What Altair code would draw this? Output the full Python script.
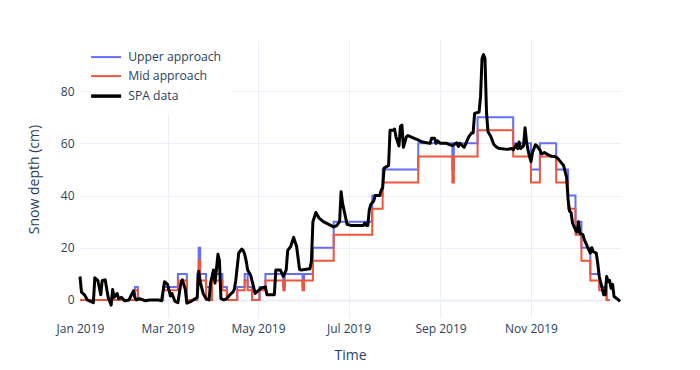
import altair as alt
import pandas as pd

# ---------------- data ----------------
series_names = ["Upper approach", "Mid approach", "SPA data"]
series_colors = ["#636efa", "#EF553B", "#000000"]

step_dates = [
    "2019-01-01", "2019-02-07", "2019-02-09", "2019-02-26", "2019-03-08", "2019-03-14",
    "2019-03-21", "2019-03-22", "2019-03-23", "2019-03-27", "2019-03-31", "2019-04-07",
    "2019-04-10", "2019-04-17", "2019-04-22", "2019-04-24", "2019-04-27", "2019-05-02",
    "2019-05-06", "2019-05-18", "2019-05-19", "2019-05-31", "2019-06-01", "2019-06-07",
    "2019-06-21", "2019-07-17", "2019-07-24", "2019-08-17", "2019-09-09", "2019-09-10",
    "2019-09-26", "2019-10-20", "2019-11-01", "2019-11-07", "2019-11-18", "2019-11-26",
    "2019-12-01", "2019-12-05", "2019-12-11", "2019-12-17", "2019-12-22", "2019-12-24",
]
upper_values = [
    0, 5, 0, 5, 10, 0,
    10, 20, 10, 5, 10, 5,
    0, 5, 10, 5, 0, 5,
    10, 5, 10, 5, 10, 20,
    30, 40, 50, 60, 50, 60,
    70, 60, 50, 60, 50, 40,
    30, 20, 10, 5, 0, 0,
]
mid_values = [
    0, 3.75, 0, 3.75, 7.5, 0,
    7.5, 15, 7.5, 0, 7.5, 3.75,
    0, 3.75, 7.5, 3.75, 0, 3.75,
    7.5, 3.75, 7.5, 3.75, 7.5, 15,
    25, 35, 45, 55, 45, 55,
    65, 55, 45, 55, 45, 35,
    25, 15, 7.5, 3.75, 0, 0,
]

spa_dates = [
    "2019-01-01", "2019-01-02", "2019-01-04", "2019-01-06", "2019-01-08", "2019-01-10",
    "2019-01-11", "2019-01-13", "2019-01-15", "2019-01-16", "2019-01-18", "2019-01-20",
    "2019-01-21", "2019-01-22", "2019-01-23", "2019-01-24", "2019-01-26", "2019-01-27",
    "2019-01-29", "2019-01-31", "2019-02-03", "2019-02-06", "2019-02-07", "2019-02-08",
    "2019-02-10", "2019-02-14", "2019-02-17", "2019-02-23", "2019-02-25", "2019-02-27",
    "2019-03-01", "2019-03-03", "2019-03-04", "2019-03-06", "2019-03-08", "2019-03-10",
    "2019-03-11", "2019-03-13", "2019-03-14", "2019-03-17", "2019-03-21", "2019-03-22",
    "2019-03-23", "2019-03-25", "2019-03-27", "2019-03-29", "2019-03-30", "2019-04-01",
    "2019-04-02", "2019-04-04", "2019-04-05", "2019-04-06", "2019-04-08", "2019-04-10",
    "2019-04-12", "2019-04-14", "2019-04-15", "2019-04-16", "2019-04-18", "2019-04-20",
    "2019-04-21", "2019-04-22", "2019-04-23", "2019-04-24", "2019-04-26", "2019-04-28",
    "2019-04-29", "2019-05-01", "2019-05-03", "2019-05-06", "2019-05-07", "2019-05-12",
    "2019-05-13", "2019-05-16", "2019-05-18", "2019-05-20", "2019-05-21", "2019-05-23",
    "2019-05-25", "2019-05-27", "2019-05-29", "2019-05-30", "2019-06-05", "2019-06-06",
    "2019-06-07", "2019-06-09", "2019-06-11", "2019-06-14", "2019-06-21", "2019-06-23",
    "2019-06-25", "2019-06-26", "2019-06-27", "2019-06-30", "2019-07-03", "2019-07-11",
    "2019-07-12", "2019-07-13", "2019-07-14", "2019-07-15", "2019-07-16", "2019-07-18",
    "2019-07-19", "2019-07-22", "2019-07-23", "2019-07-24", "2019-07-25", "2019-07-28",
    "2019-07-29", "2019-07-31", "2019-08-01", "2019-08-02", "2019-08-04", "2019-08-05",
    "2019-08-06", "2019-08-07", "2019-08-09", "2019-08-10", "2019-08-12", "2019-08-16",
    "2019-08-20", "2019-08-25", "2019-08-26", "2019-08-28", "2019-08-29", "2019-08-30",
    "2019-09-01", "2019-09-05", "2019-09-07", "2019-09-09", "2019-09-12", "2019-09-13",
    "2019-09-14", "2019-09-17", "2019-09-20", "2019-09-22", "2019-09-23", "2019-09-24",
    "2019-09-27", "2019-09-28", "2019-09-29", "2019-09-30", "2019-10-01", "2019-10-02",
    "2019-10-03", "2019-10-05", "2019-10-07", "2019-10-09", "2019-10-11", "2019-10-16",
    "2019-10-19", "2019-10-20", "2019-10-22", "2019-10-23", "2019-10-24", "2019-10-25",
    "2019-10-27", "2019-10-28", "2019-10-29", "2019-10-30", "2019-10-31", "2019-11-01",
    "2019-11-02", "2019-11-04", "2019-11-05", "2019-11-07", "2019-11-08", "2019-11-10",
    "2019-11-13", "2019-11-15", "2019-11-17", "2019-11-19", "2019-11-20", "2019-11-23",
    "2019-11-25", "2019-11-26", "2019-11-27", "2019-11-28", "2019-11-29", "2019-12-01",
    "2019-12-02", "2019-12-03", "2019-12-04", "2019-12-06", "2019-12-07", "2019-12-10",
    "2019-12-11", "2019-12-12", "2019-12-13", "2019-12-15", "2019-12-16", "2019-12-17",
    "2019-12-19", "2019-12-20", "2019-12-21", "2019-12-22", "2019-12-23", "2019-12-24",
    "2019-12-25", "2019-12-26", "2019-12-27", "2019-12-29", "2019-12-30", "2019-12-31",
]
spa_values = [
    9, 3, 2, 0, -0.5, -1,
    8.5, 7.5, 2, 7.5, 7.7, 1,
    -0.5, -2, 4, 1, 2.5, 0.5,
    1, -0.3, 0, 3.5, 1, 0,
    0.5, -0.3, 0, 0, -0.3, 7,
    6, 1.5, 2.5, -0.5, -1, 6.5,
    7.7, 4, -1.2, -0.5, 1, 11,
    7, 2.5, 0.5, 0, 6.5, 11.5,
    6.5, 17.5, 15, 0.5, 0, 0.5,
    2, 3, 4, 7.5, 18, 19.5,
    19, 17.5, 15, 11.5, 9.5, 5,
    2.5, 3.5, 4.5, 5, 2, 2,
    11.5, 11.5, 9, 11.5, 19, 20.5,
    24, 20.5, 11.7, 11.5, 12, 15,
    30, 33.5, 31.5, 30, 28, 28.5,
    30, 41.5, 37, 29, 28.5, 28.5,
    29.5, 28.5, 28.5, 34.5, 36.5, 38,
    40, 40, 42, 43, 50.5, 51.5,
    65, 65, 65.5, 62.5, 59, 66.5,
    67, 58.5, 62.5, 63, 62.5, 61.5,
    60.5, 60, 62, 62, 60, 61,
    60, 60, 59.5, 59.2, 60.2, 58.8,
    60, 58.5, 62.5, 64, 64, 71.5,
    72, 78, 92.5, 94, 92.5, 72,
    64.5, 62.5, 59.5, 58.5, 58, 57.7,
    58, 57.5, 59.5, 58, 60.5, 58,
    59, 66, 60.5, 57.5, 55, 53,
    56.5, 59.5, 59, 57.5, 56, 56.5,
    55.5, 55, 55, 54.3, 53.6, 51.5,
    47, 38.5, 34, 33.5, 29.5, 26.8,
    26, 30, 25.5, 25, 23, 19.2,
    18, 20, 18.5, 18, 14, 9,
    4.5, 2, 2, 9, 7, 7.5,
    4.5, 6, 1.3, 0.5, 0, -0.5,
]

x_ticks = [1, 3, 5, 7, 9, 11]
y_ticks = [0, 20, 40, 60, 80]
y_range = [-6.9, 99.6]

# ---------------- build tables ----------------
df_up = pd.DataFrame({"date": step_dates, "value": upper_values, "series": series_names[0]})
df_mid = pd.DataFrame({"date": step_dates, "value": mid_values, "series": series_names[1]})
df_spa = pd.DataFrame({"date": spa_dates, "value": spa_values, "series": series_names[2]})

FONT = "Open Sans"
TXT = "#2a3f5f"
GRID = "#ebf0f8"

x_enc = alt.X(
    "date:T",
    scale=alt.Scale(
        type="utc",
        domain=[alt.DateTime(year=2019, month=1, date=1, utc=True),
                alt.DateTime(year=2019, month=12, date=31, utc=True)],
        nice=False,
    ),
    axis=alt.Axis(
        title="Time",
        format="%b %Y",
        values=[alt.DateTime(year=2019, month=m, date=1, utc=True) for m in x_ticks],
        labelFlush=False,
        labelOverlap=False,
        labelPadding=5,
        titlePadding=14,
        gridOpacity={"condition": {"test": "utcmonth(datum.value) == 0", "value": 0}, "value": 1},
    ),
)
y_enc = alt.Y(
    "value:Q",
    scale=alt.Scale(domain=y_range, nice=False, zero=False),
    axis=alt.Axis(
        title="Snow depth (cm)",
        values=y_ticks,
        labelPadding=6,
        titlePadding=19,
        gridWidth={"condition": {"test": "datum.value === 0", "value": 2}, "value": 1},
    ),
)
legend = alt.Legend(
    title=None,
    orient="none",
    legendX=10,
    legendY=1,
    symbolType="M-3,0H3",
    symbolSize=100,
    symbolStrokeWidth=alt.ExprRef(expr="datum.value === 'SPA data' ? 3.5 : 2"),
    labelOffset=16,
    rowPadding=6,
    padding=10,
    fillColor="white",
    labelFontSize=12.2,
    labelColor=TXT,
    labelFont=FONT,
)
color_enc = alt.Color("series:N", scale=alt.Scale(domain=series_names, range=series_colors), legend=legend)

up = alt.Chart(df_up).mark_line(interpolate="step-after", strokeWidth=2).encode(x=x_enc, y=y_enc, color=color_enc)
mid = alt.Chart(df_mid).mark_line(interpolate="step-after", strokeWidth=2).encode(x=x_enc, y=y_enc, color=color_enc)
spa = alt.Chart(df_spa).mark_line(strokeJoin="round", strokeWidth=3).encode(x=x_enc, y=y_enc, color=color_enc)

chart = (
    alt.layer(up, mid, spa)
    .properties(
        width=540,
        height=278,
        autosize=alt.AutoSizeParams(type="none"),
        padding={"left": 72, "top": 32, "right": 72, "bottom": 44},
    )
    .configure_view(stroke=None)
    .configure_axis(
        gridColor=GRID,
        domain=False,
        ticks=False,
        labelFont=FONT,
        titleFont=FONT,
        labelColor=TXT,
        titleColor=TXT,
        labelFontSize=12,
        titleFontSize=14,
        titleFontWeight="normal",
    )
)

chart.save("out.html", embed_options={"renderer": "svg", "actions": False})
